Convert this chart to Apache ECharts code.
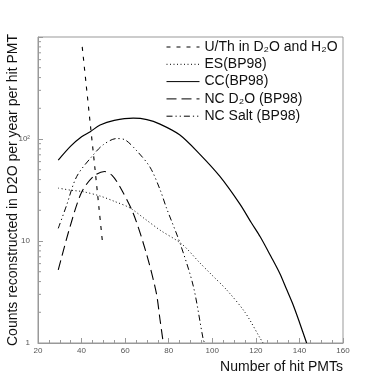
<!DOCTYPE html>
<html>
<head>
<meta charset="utf-8">
<script src="https://cdn.jsdelivr.net/npm/echarts@6/dist/echarts.min.js"></script>
<style>
  html, body { margin: 0; padding: 0; background: #fff; }
  #main { width: 382px; height: 382px; }
</style>
</head>
<body>
<div id="main"></div>
<script>
// curves: [number of hit PMTs, counts]
var uthData = [[40.3, 800], [42, 360], [44, 140], [46, 55], [48, 21], [49.5, 10.2]];
var esData = [[29.3, 33], [35, 31.5], [40.8, 30.4], [48.5, 27.6], [55, 24.5], [62.2, 21.1], [69, 16.5], [76, 12.8], [86.1, 9.3], [94.3, 6.1], [100, 4.6], [106.7, 3.3], [115, 2.0], [121.9, 1.12], [123.3, 1]];
var ccData = [[29.3, 62], [35, 85], [40, 105], [44, 118], [48.5, 137], [55, 152], [63.7, 160], [70, 155], [76, 140], [85, 110], [94, 72], [103.5, 43], [112.7, 23], [118, 15], [122, 11], [127, 7], [131, 4.8], [134, 3.4], [137, 2.4], [140, 1.6], [143.3, 1]];
var ncD2OData = [[29.3, 5.2], [34.7, 13.8], [40, 30], [45.4, 43], [50.5, 48], [54, 44], [57.6, 34], [63.7, 18.7], [69.7, 7.6], [74.3, 3.1], [76, 1.7], [77.5, 1]];
var ncSaltData = [[29.3, 13.3], [33, 22], [37.8, 43], [45.4, 70], [50, 88], [56, 101], [60, 98], [65, 78], [71.4, 53], [76, 32], [79, 21], [85.2, 9.5], [91.3, 3.6], [95.9, 1.07], [96.6, 1]];

var seriesNames = ['U/Th in D\u2082O and H\u2082O', 'ES(BP98)', 'CC(BP98)', 'NC D\u2082O (BP98)', 'NC Salt (BP98)'];
var xTicks = [20, 40, 60, 80, 100, 120, 140, 160];
var yMinorTicks = [2, 3, 4, 5, 6, 7, 8, 9, 20, 30, 40, 50, 60, 70, 80, 90, 200, 300, 400, 500, 600, 700, 800, 900];

var font = '"Liberation Sans", Arial, Helvetica, sans-serif';
var gray = '#999';

var chart = echarts.init(document.getElementById('main'), null, { renderer: 'canvas' });

function lineSeries(name, data, width, dash) {
  return {
    name: name,
    type: 'line',
    data: data,
    symbol: 'none',
    smooth: 0.3,
    silent: true,
    animation: false,
    itemStyle: { color: '#000' },
    lineStyle: { color: '#000', width: width, type: dash }
  };
}

var option = {
  animation: false,
  backgroundColor: '#fff',
  textStyle: { fontFamily: font },
  grid: {
    left: 38, top: 37, width: 305, height: 306,
    outerBoundsMode: 'none',
    containLabel: false,
    show: true, borderColor: gray, borderWidth: 1
  },
  legend: {
    data: seriesNames,
    orient: 'vertical',
    left: 166, top: 40,
    padding: 0,
    itemWidth: 33, itemHeight: 14, itemGap: 3.3,
    itemStyle: { opacity: 0 },
    lineStyle: { width: 1 },
    textStyle: { fontSize: 14, color: '#111', fontFamily: font },
    selectedMode: false
  },
  xAxis: {
    type: 'value',
    min: 20, max: 160, interval: 20,
    name: 'Number of hit PMTs',
    nameLocation: 'end',
    nameGap: 0,
    nameMoveOverlap: false,
    nameTextStyle: { fontSize: 14, color: '#111', align: 'right', verticalAlign: 'top', padding: [17, 0, 0, 0] },
    axisLine: { lineStyle: { color: gray } },
    axisTick: { inside: true, length: 5, lineStyle: { color: gray } },
    minorTick: { show: true, splitNumber: 4, length: 3, lineStyle: { color: gray } },
    axisLabel: { fontSize: 8, color: '#555', margin: 4,
      formatter: function (v) { return xTicks.indexOf(v) >= 0 ? String(v) : ''; } },
    splitLine: { show: false }
  },
  yAxis: {
    type: 'log',
    logBase: 10,
    min: 1, max: 1000,
    name: 'Counts reconstructed in D2O per year per hit PMT',
    nameLocation: 'middle',
    nameGap: 18,
    nameMoveOverlap: false,
    nameTextStyle: { fontSize: 14, color: '#111' },
    axisLine: { lineStyle: { color: gray } },
    axisTick: { inside: true, length: 5, lineStyle: { color: gray } },
    axisLabel: { fontSize: 8, color: '#555', margin: 8,
      formatter: function (v) {
        if (Math.abs(v - 1) < 1e-6) return '1';
        if (Math.abs(v - 10) < 1e-6) return '10';
        if (Math.abs(v - 100) < 1e-6) return '10\u00b2';
        return '';
      } },
    splitLine: { show: false }
  },
  series: [
    lineSeries(seriesNames[0], uthData, 1.1, [4, 6]),
    lineSeries(seriesNames[1], esData, 1, [1, 2.5]),
    lineSeries(seriesNames[2], ccData, 1.2, 'solid'),
    lineSeries(seriesNames[3], ncD2OData, 1.1, [10, 5]),
    lineSeries(seriesNames[4], ncSaltData, 1, [6, 3, 1.2, 3, 1.2, 3]),
    {
      // minor ticks of the log axis (2..9 per decade)
      type: 'custom',
      silent: true,
      animation: false,
      clip: false,
      data: yMinorTicks.map(function (v) { return [20, v]; }),
      renderItem: function (params, api) {
        var p = api.coord([20, api.value(1)]);
        return {
          type: 'line',
          shape: { x1: p[0], y1: p[1], x2: p[0] + 3, y2: p[1] },
          style: { stroke: gray, lineWidth: 1 }
        };
      }
    }
  ]
};

chart.setOption(option);
</script>
</body>
</html>
